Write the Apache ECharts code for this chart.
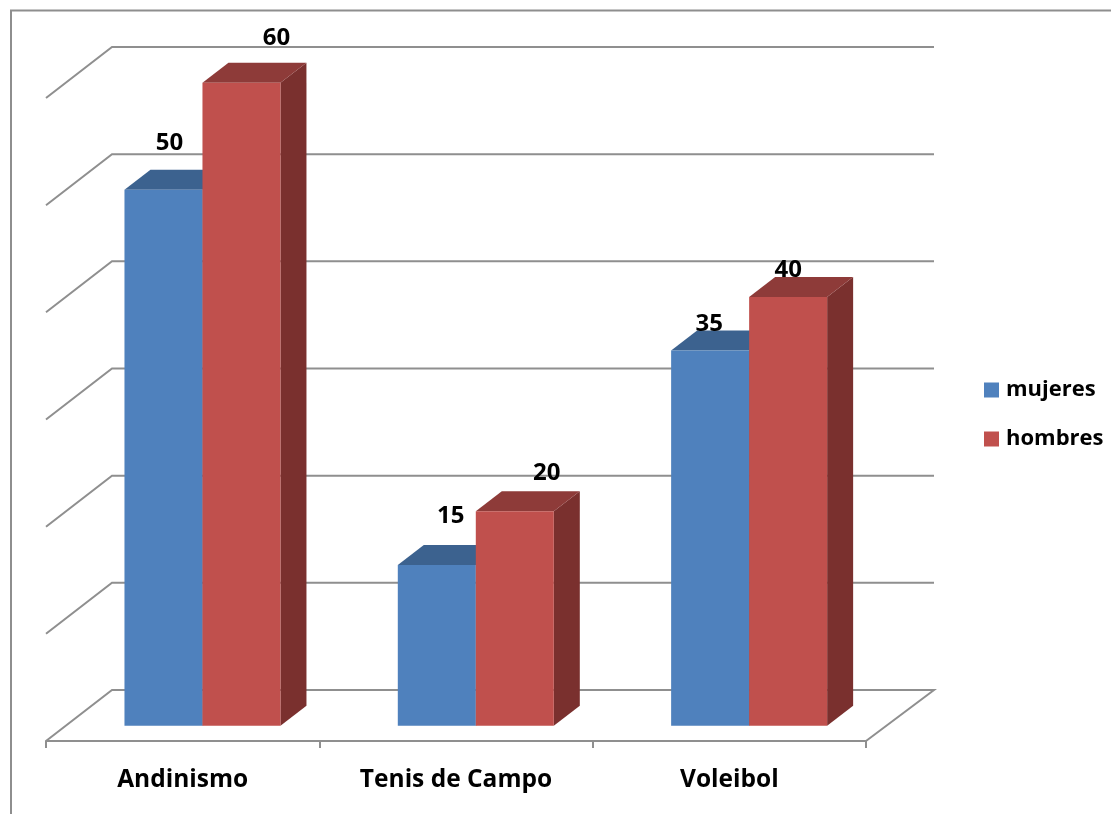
<!DOCTYPE html>
<html>
<head>
<meta charset="utf-8">
<style>html,body{margin:0;padding:0;background:#fff}#c{width:1111px;height:814px}</style>
<script src="https://cdn.jsdelivr.net/npm/echarts@6/dist/echarts.min.js"></script>
</head>
<body>
<div id="c"></div>
<script>
const categories = ['Andinismo', 'Tenis de Campo', 'Voleibol'];
const mujeres = [50, 15, 35];
const hombres = [60, 20, 40];
const gridValues = [0, 10, 20, 30, 40, 50, 60];
const mujeresLabelShift = [[6, -47], [14, -49], [-1, -26]];
const hombresLabelShift = [[35, -45], [32, -38], [0, -27]];

const FONT = '"Open Sans", Lato, sans-serif';
const GRID = '#8f8f8f';
const DX = 66, DY = -51;          // full floor depth
const BAR_DX = 26, BAR_DY = -20;  // bar depth
const BAR_OX = 19.8, BAR_OY = -15.3; // bar front-face shift into the floor
const BAR_BAND = 78 / 273.33;

function barRender(dir, colors, shifts) {
  return function (params, api) {
    const i = api.value(0), v = api.value(1);
    const band = api.size([1, 0])[0];
    const w = band * BAR_BAND;
    const top = api.coord([i, v]);
    const base = api.coord([i, 0]);
    const x0 = top[0] + BAR_OX + (dir < 0 ? -w : 0);
    const x1 = x0 + w;
    const y0 = top[1] + BAR_OY;
    const y1 = base[1] + BAR_OY;
    const shift = shifts[params.dataIndex];
    return {
      type: 'group',
      children: [
        { type: 'polygon', shape: { points: [[x1, y0], [x1 + BAR_DX, y0 + BAR_DY], [x1 + BAR_DX, y1 + BAR_DY], [x1, y1]] }, style: { fill: colors.side } },
        { type: 'polygon', shape: { points: [[x0, y0], [x0 + BAR_DX, y0 + BAR_DY], [x1 + BAR_DX, y0 + BAR_DY], [x1, y0]] }, style: { fill: colors.top } },
        { type: 'rect', shape: { x: x0, y: y0, width: w, height: y1 - y0 }, style: { fill: colors.front } },
        { type: 'text', z2: 100, style: { text: String(v), x: (x0 + x1) / 2 + shift[0], y: y0 + shift[1], align: 'center', verticalAlign: 'middle', fill: '#000', font: 'bold 24px ' + FONT } }
      ]
    };
  };
}

function wallRender(params, api) {
  const cs = params.coordSys;
  const v = api.value(1);
  const y = api.coord([0, v])[1];
  const left = cs.x, right = cs.x + cs.width;
  const pts = [[left, y], [left + DX, y + DY], [right + DX + 2, y + DY]];
  if (v === 0) pts.push([right, y]);
  return { type: 'polyline', shape: { points: pts }, style: { stroke: GRID, lineWidth: 2, fill: null } };
}

const chart = echarts.init(document.getElementById('c'), null, { renderer: 'canvas' });
chart.setOption({
  animation: false,
  backgroundColor: '#fff',
  graphic: [{
    type: 'polyline',
    shape: { points: [[11, 830], [11, 10.5], [1120, 10.5]] },
    style: { stroke: '#8e8e8e', lineWidth: 2, fill: null },
    silent: true
  }],
  grid: { left: 46, right: 245, top: 98, bottom: 73 },
  xAxis: {
    type: 'category',
    data: categories,
    axisLine: { show: true, lineStyle: { color: GRID, width: 2 } },
    axisTick: { show: true, length: 7, lineStyle: { color: GRID, width: 2 } },
    axisLabel: { color: '#000', fontFamily: FONT, fontWeight: 'bold', fontSize: 24.5, margin: 27 },
    splitLine: { show: false }
  },
  yAxis: { type: 'value', min: 0, max: 60, interval: 10, show: false },
  legend: {
    orient: 'vertical', left: 984, top: 379, padding: 0, itemWidth: 15, itemHeight: 15, itemGap: 27, itemStyle: { borderWidth: 0 },
    icon: 'rect', selectedMode: false, data: ['mujeres', 'hombres'],
    textStyle: { color: '#000', fontFamily: FONT, fontWeight: 'bold', fontSize: 22, padding: [0, 0, 0, 2] }
  },
  series: [
    { type: 'custom', name: 'walls', z: 1, silent: true, renderItem: wallRender,
      data: gridValues.map(v => [0, v]), encode: { x: 0, y: 1 } },
    { type: 'custom', name: 'mujeres', z: 2, silent: true, itemStyle: { color: '#4F81BD' },
      renderItem: barRender(-1, { front: '#4F81BD', top: '#3C628F', side: '#345478' }, mujeresLabelShift),
      data: mujeres.map((v, i) => [i, v]), encode: { x: 0, y: 1 } },
    { type: 'custom', name: 'hombres', z: 3, silent: true, itemStyle: { color: '#C0504D' },
      renderItem: barRender(1, { front: '#C0504D', top: '#8E3B39', side: '#7A302E' }, hombresLabelShift),
      data: hombres.map((v, i) => [i, v]), encode: { x: 0, y: 1 } }
  ]
});
</script>
</body>
</html>
